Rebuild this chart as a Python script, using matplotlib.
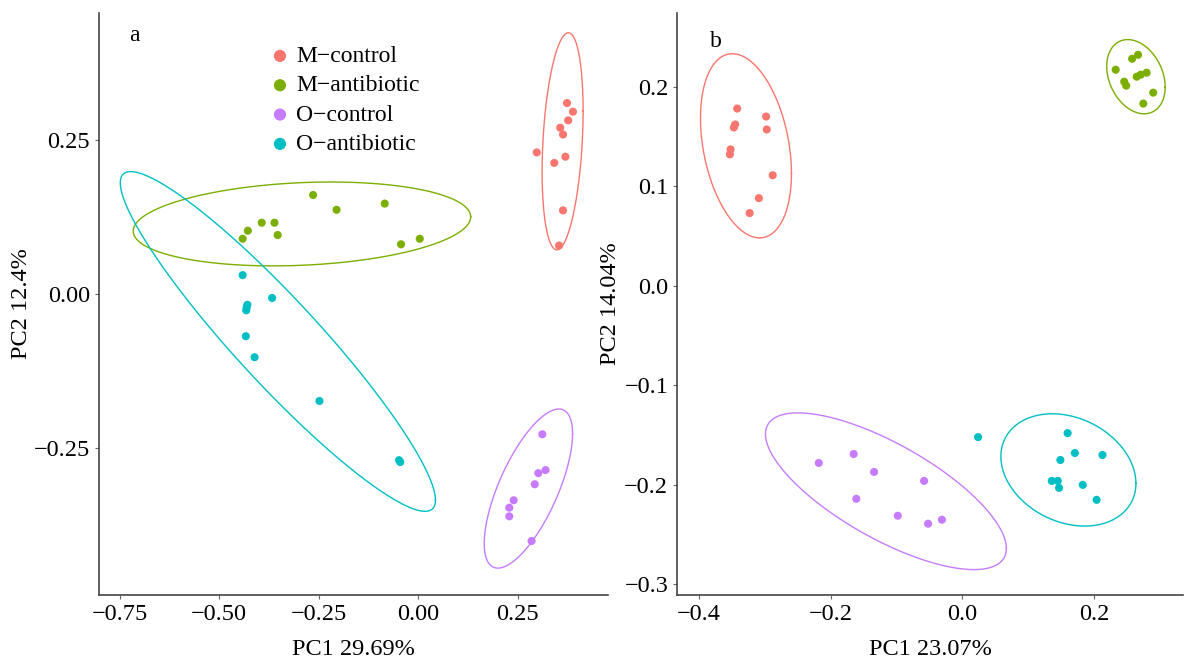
import numpy as np
import matplotlib.pyplot as plt

plt.rcParams['font.family'] = ['Liberation Serif', 'DejaVu Serif']

groups = ["M−control", "M−antibiotic", "O−control", "O−antibiotic"]
colors = ["#F8766D", "#7CAE00", "#C77CFF", "#00BFC4"]

# panel a (PC1 29.69%, PC2 12.4%)
a_mc_x = [0.374, 0.389, 0.377, 0.357, 0.364, 0.298, 0.342, 0.370, 0.364, 0.354]
a_mc_y = [0.310, 0.296, 0.282, 0.270, 0.259, 0.230, 0.213, 0.223, 0.136, 0.079]
a_ma_x = [-0.264, -0.205, -0.084, -0.393, -0.361, -0.428, -0.441, -0.353, -0.043, 0.004]
a_ma_y = [0.161, 0.137, 0.147, 0.116, 0.116, 0.103, 0.090, 0.096, 0.081, 0.090]
a_oc_x = [0.312, 0.320, 0.302, 0.293, 0.240, 0.229, 0.229, 0.285]
a_oc_y = [-0.227, -0.285, -0.290, -0.308, -0.334, -0.346, -0.360, -0.400]
a_oa_x = [-0.441, -0.367, -0.429, -0.431, -0.432, -0.433, -0.411, -0.248, -0.048, -0.045]
a_oa_y = [0.031, -0.006, -0.017, -0.021, -0.026, -0.068, -0.102, -0.173, -0.269, -0.272]
# ellipses: centre x, centre y, half width, half height, correlation
a_ell = [(0.363, 0.248, 0.0515, 0.176, 0.28),
         (-0.292, 0.114, 0.424, 0.068, 0.17),
         (0.277, -0.315, 0.111, 0.129, 0.69),
         (-0.3525, -0.0765, 0.396, 0.2754, -0.934)]

# panel b (PC1 23.07%, PC2 14.04%)
b_mc_x = [-0.342, -0.298, -0.345, -0.347, -0.297, -0.352, -0.353, -0.288, -0.309, -0.323]
b_mc_y = [0.178, 0.170, 0.162, 0.159, 0.157, 0.137, 0.132, 0.111, 0.088, 0.073]
b_ma_x = [0.233, 0.258, 0.267, 0.246, 0.249, 0.265, 0.271, 0.280, 0.290, 0.275]
b_ma_y = [0.217, 0.228, 0.232, 0.205, 0.201, 0.210, 0.212, 0.214, 0.194, 0.183]
b_oc_x = [-0.218, -0.165, -0.134, -0.058, -0.161, -0.098, -0.052, -0.031]
b_oc_y = [-0.178, -0.169, -0.187, -0.196, -0.214, -0.231, -0.239, -0.235]
b_oa_x = [0.024, 0.160, 0.171, 0.213, 0.149, 0.136, 0.145, 0.147, 0.183, 0.204]
b_oa_y = [-0.152, -0.148, -0.168, -0.170, -0.175, -0.196, -0.196, -0.203, -0.200, -0.215]
b_ell = [(-0.3286, 0.1406, 0.0691, 0.0925, -0.30),
         (0.2638, 0.210, 0.0444, 0.0373, -0.28),
         (-0.116, -0.2064, 0.183, 0.0787, -0.73),
         (0.1612, -0.185, 0.1026, 0.0564, -0.24)]


def ellipse(cx, cy, w, h, rho):
    t = np.linspace(0, 2 * np.pi, 300)
    return cx + w * np.cos(t), cy + h * (rho * np.cos(t) + np.sqrt(1 - rho ** 2) * np.sin(t))


def style(ax):
    for s in ["top", "right"]:
        ax.spines[s].set_visible(False)
    for s in ["left", "bottom"]:
        ax.spines[s].set_color("#444444")
        ax.spines[s].set_linewidth(1.2)
    ax.tick_params(colors="#666666", labelcolor="black", labelsize=17.5, length=3, width=0.8)


fig = plt.figure(figsize=(11.84, 6.63), dpi=100)
ax1 = fig.add_axes([0.0836, 0.1026, 0.4299, 0.8778])
ax2 = fig.add_axes([0.572, 0.1026, 0.427, 0.8778])

panels = [
    (ax1, [(a_mc_x, a_mc_y), (a_ma_x, a_ma_y), (a_oc_x, a_oc_y), (a_oa_x, a_oa_y)], a_ell),
    (ax2, [(b_mc_x, b_mc_y), (b_ma_x, b_ma_y), (b_oc_x, b_oc_y), (b_oa_x, b_oa_y)], b_ell),
]
for ax, pts, ells in panels:
    for (x, y), e, c, g in zip(pts, ells, colors, groups):
        ax.scatter(x, y, s=34, color=c, edgecolors="none", label=g, zorder=3)
        ex, ey = ellipse(*e)
        ax.plot(ex, ey, color=c, lw=1.0, zorder=2)
    style(ax)

ax1.set_xlim(-0.802, 0.477)
ax1.set_ylim(-0.4875, 0.456)
ax1.set_xticks([-0.75, -0.50, -0.25, 0.00, 0.25])
ax1.set_xticklabels(["−0.75", "−0.50", "−0.25", "0.00", "0.25"])
ax1.set_yticks([-0.25, 0.00, 0.25])
ax1.set_yticklabels(["−0.25", "0.00", "0.25"])
ax1.set_xlabel("PC1 29.69%", fontsize=17.5, labelpad=10)
ax1.set_ylabel("PC2 12.4%", fontsize=17.5, labelpad=1)
ax1.text(0.06, 0.979, "a", transform=ax1.transAxes, fontsize=17, va="top")

ax2.set_xlim(-0.433, 0.335)
ax2.set_ylim(-0.3106, 0.274)
ax2.set_xticks([-0.4, -0.2, 0.0, 0.2])
ax2.set_xticklabels(["−0.4", "−0.2", "0.0", "0.2"])
ax2.set_yticks([-0.3, -0.2, -0.1, 0.0, 0.1, 0.2])
ax2.set_yticklabels(["−0.3", "−0.2", "−0.1", "0.0", "0.1", "0.2"])
ax2.set_xlabel("PC1 23.07%", fontsize=17.5, labelpad=10)
ax2.set_ylabel("PC2 14.04%", fontsize=17.5, labelpad=2)
ax2.text(0.064, 0.969, "b", transform=ax2.transAxes, fontsize=17, va="top")

ax1.legend(loc="upper left", bbox_to_anchor=(0.337, 0.944), frameon=False, fontsize=17,
           borderpad=0, borderaxespad=0, handlelength=0.8, handletextpad=0.3,
           labelspacing=0.33, markerscale=1.5)

fig.savefig("out.png", dpi=100)
